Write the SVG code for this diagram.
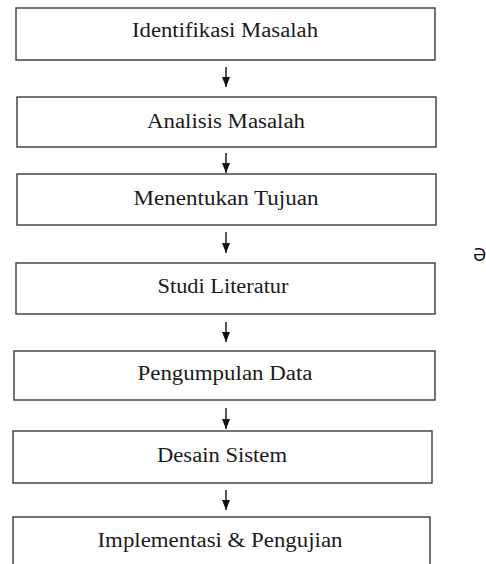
<svg xmlns="http://www.w3.org/2000/svg" width="486" height="564" viewBox="0 0 486 564">
  <style>
    .box { fill: #ffffff; stroke: #3a3a3a; stroke-width: 1.4; }
    .lbl { font-family: "Liberation Serif", "Times New Roman", serif; font-size: 20px; fill: #1a1a1a; text-anchor: middle; }
    .conn { stroke: #111; stroke-width: 1.4; fill: none; }
  </style>
  <defs>
    <marker id="head" viewBox="0 0 10 8" refX="10" refY="4" markerWidth="10" markerHeight="8" markerUnits="userSpaceOnUse" orient="auto">
      <path d="M0,0 L10,4 L0,8 Z" fill="#111"/>
    </marker>
  </defs>
  <rect width="486" height="564" fill="#ffffff"/>

  <g id="n1">
    <rect class="box" x="16" y="8" width="419" height="52"/>
    <text class="lbl" x="225" y="37" textLength="186" lengthAdjust="spacingAndGlyphs">Identifikasi Masalah</text>
  </g>
  <g id="n2">
    <rect class="box" x="17" y="97" width="419" height="50"/>
    <text class="lbl" x="226" y="128" textLength="158" lengthAdjust="spacingAndGlyphs">Analisis Masalah</text>
  </g>
  <g id="n3">
    <rect class="box" x="17" y="174" width="419" height="51"/>
    <text class="lbl" x="226" y="205" textLength="185" lengthAdjust="spacingAndGlyphs">Menentukan Tujuan</text>
  </g>
  <g id="n4">
    <rect class="box" x="16" y="263" width="419" height="51"/>
    <text class="lbl" x="223" y="293" textLength="131" lengthAdjust="spacingAndGlyphs">Studi Literatur</text>
  </g>
  <g id="n5">
    <rect class="box" x="14" y="351" width="421" height="49"/>
    <text class="lbl" x="225" y="380" textLength="175" lengthAdjust="spacingAndGlyphs">Pengumpulan Data</text>
  </g>
  <g id="n6">
    <rect class="box" x="13" y="431" width="419" height="52"/>
    <text class="lbl" x="222" y="462" textLength="130" lengthAdjust="spacingAndGlyphs">Desain Sistem</text>
  </g>
  <g id="n7">
    <rect class="box" x="13" y="517" width="417" height="60"/>
    <text class="lbl" x="220" y="547" textLength="245" lengthAdjust="spacingAndGlyphs">Implementasi &amp; Pengujian</text>
  </g>

  <g id="connectors">
    <line class="conn" x1="226" y1="67" x2="226" y2="87" marker-end="url(#head)"/>
    <line class="conn" x1="226" y1="153" x2="226" y2="173" marker-end="url(#head)"/>
    <line class="conn" x1="226" y1="232" x2="226" y2="253" marker-end="url(#head)"/>
    <line class="conn" x1="226" y1="322" x2="226" y2="342" marker-end="url(#head)"/>
    <line class="conn" x1="226" y1="408" x2="226" y2="429" marker-end="url(#head)"/>
    <line class="conn" x1="226" y1="490" x2="226" y2="510" marker-end="url(#head)"/>
  </g>

  <text x="473" y="261" font-family="'Noto Sans', 'DejaVu Sans', sans-serif" font-size="18" fill="#111">Ə</text>
</svg>
